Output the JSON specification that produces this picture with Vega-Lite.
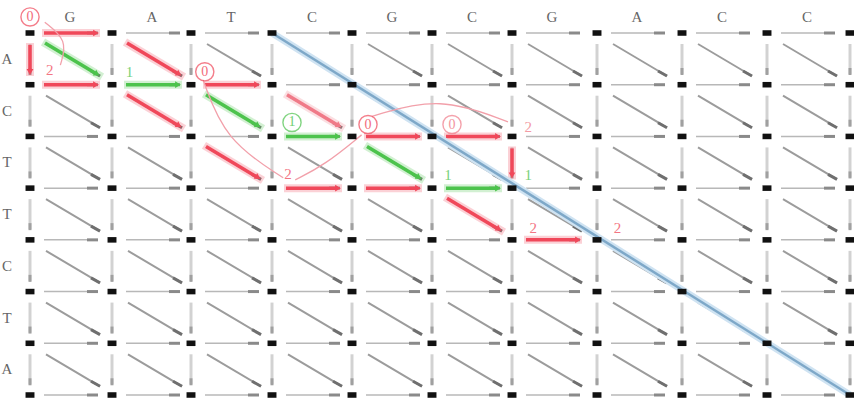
{
  "$schema": "https://vega.github.io/schema/vega-lite/v6.json",
  "width": 854,
  "height": 404,
  "padding": 0,
  "autosize": "none",
  "background": "white",
  "view": {"stroke": null},
  "config": {"text": {"font": "Liberation Serif"}},
  "datasets": {
    "nodes": [
      {"c":0,"r":0},{"c":1,"r":0},{"c":2,"r":0},{"c":3,"r":0},{"c":4,"r":0},{"c":5,"r":0},{"c":6,"r":0},{"c":7,"r":0},{"c":8,"r":0},{"c":9,"r":0},{"c":10,"r":0},
      {"c":0,"r":1},{"c":1,"r":1},{"c":2,"r":1},{"c":3,"r":1},{"c":4,"r":1},{"c":5,"r":1},{"c":6,"r":1},{"c":7,"r":1},{"c":8,"r":1},{"c":9,"r":1},{"c":10,"r":1},
      {"c":0,"r":2},{"c":1,"r":2},{"c":2,"r":2},{"c":3,"r":2},{"c":4,"r":2},{"c":5,"r":2},{"c":6,"r":2},{"c":7,"r":2},{"c":8,"r":2},{"c":9,"r":2},{"c":10,"r":2},
      {"c":0,"r":3},{"c":1,"r":3},{"c":2,"r":3},{"c":3,"r":3},{"c":4,"r":3},{"c":5,"r":3},{"c":6,"r":3},{"c":7,"r":3},{"c":8,"r":3},{"c":9,"r":3},{"c":10,"r":3},
      {"c":0,"r":4},{"c":1,"r":4},{"c":2,"r":4},{"c":3,"r":4},{"c":4,"r":4},{"c":5,"r":4},{"c":6,"r":4},{"c":7,"r":4},{"c":8,"r":4},{"c":9,"r":4},{"c":10,"r":4},
      {"c":0,"r":5},{"c":1,"r":5},{"c":2,"r":5},{"c":3,"r":5},{"c":4,"r":5},{"c":5,"r":5},{"c":6,"r":5},{"c":7,"r":5},{"c":8,"r":5},{"c":9,"r":5},{"c":10,"r":5},
      {"c":0,"r":6},{"c":1,"r":6},{"c":2,"r":6},{"c":3,"r":6},{"c":4,"r":6},{"c":5,"r":6},{"c":6,"r":6},{"c":7,"r":6},{"c":8,"r":6},{"c":9,"r":6},{"c":10,"r":6},
      {"c":0,"r":7},{"c":1,"r":7},{"c":2,"r":7},{"c":3,"r":7},{"c":4,"r":7},{"c":5,"r":7},{"c":6,"r":7},{"c":7,"r":7},{"c":8,"r":7},{"c":9,"r":7},{"c":10,"r":7}
    ],
    "hl": [
      {"c":0,"r":0,"dir":"h","col":"red"},
      {"c":0,"r":1,"dir":"h","col":"red"},
      {"c":2,"r":1,"dir":"h","col":"red"},
      {"c":3,"r":3,"dir":"h","col":"red"},
      {"c":4,"r":2,"dir":"h","col":"red"},
      {"c":4,"r":3,"dir":"h","col":"red"},
      {"c":5,"r":2,"dir":"h","col":"red"},
      {"c":6,"r":4,"dir":"h","col":"red"},
      {"c":1,"r":1,"dir":"h","col":"green"},
      {"c":3,"r":2,"dir":"h","col":"green"},
      {"c":5,"r":3,"dir":"h","col":"green"},
      {"c":0,"r":0,"dir":"v","col":"red"},
      {"c":6,"r":2,"dir":"v","col":"red"},
      {"c":0,"r":0,"dir":"d","col":"green"},
      {"c":2,"r":1,"dir":"d","col":"green"},
      {"c":4,"r":2,"dir":"d","col":"green"},
      {"c":1,"r":0,"dir":"d","col":"red"},
      {"c":1,"r":1,"dir":"d","col":"red"},
      {"c":2,"r":2,"dir":"d","col":"red"},
      {"c":5,"r":3,"dir":"d","col":"red"},
      {"c":3,"r":1,"dir":"d","col":"pink"}
    ],
    "arcs": [
      {"id":"a","o":0,"c":0.18,"r":-0.21},{"id":"a","o":1,"c":0.46,"r":0.14},{"id":"a","o":2,"c":0.37,"r":0.62},
      {"id":"b","o":0,"c":2.15,"r":0.91},{"id":"b","o":1,"c":2.42,"r":2.07},{"id":"b","o":2,"c":3.14,"r":2.8},
      {"id":"c","o":0,"c":3.29,"r":2.84},{"id":"c","o":1,"c":3.66,"r":2.55},{"id":"c","o":2,"c":4.12,"r":1.97},
      {"id":"d","o":0,"c":4.25,"r":1.61},{"id":"d","o":1,"c":5.1,"r":1.22},{"id":"d","o":2,"c":5.95,"r":1.72}
    ],
    "circles": [
      {"c":0,"r":-0.31,"label":"0","col":"red"},
      {"c":2.17,"r":0.75,"label":"0","col":"red"},
      {"c":4.2,"r":1.77,"label":"0","col":"red"},
      {"c":5.25,"r":1.77,"label":"0","col":"pink"},
      {"c":3.25,"r":1.73,"label":"1","col":"green"}
    ],
    "nums": [
      {"c":0.24,"r":0.72,"label":"2","col":"red"},
      {"c":3.2,"r":2.73,"label":"2","col":"red"},
      {"c":6.19,"r":1.81,"label":"2","col":"pink"},
      {"c":6.25,"r":3.77,"label":"2","col":"red"},
      {"c":7.24,"r":3.77,"label":"2","col":"red"},
      {"c":1.22,"r":0.75,"label":"1","col":"green"},
      {"c":5.2,"r":2.75,"label":"1","col":"green"},
      {"c":6.19,"r":2.75,"label":"1","col":"green"}
    ],
    "top": [
      {"c":0,"r":0,"label":"G"},{"c":1,"r":0,"label":"A"},{"c":2,"r":0,"label":"T"},{"c":3,"r":0,"label":"C"},{"c":4,"r":0,"label":"G"},
      {"c":5,"r":0,"label":"C"},{"c":6,"r":0,"label":"G"},{"c":7,"r":0,"label":"A"},{"c":8,"r":0,"label":"C"},{"c":9,"r":0,"label":"C"}
    ],
    "left": [
      {"c":0,"r":0,"label":"A"},{"c":0,"r":1,"label":"C"},{"c":0,"r":2,"label":"T"},{"c":0,"r":3,"label":"T"},
      {"c":0,"r":4,"label":"C"},{"c":0,"r":5,"label":"T"},{"c":0,"r":6,"label":"A"}
    ],
    "blue": [{"c":3,"r":0,"c2":10,"r2":7}]
  },
  "encoding": {
    "x": {"field":"c","type":"quantitative","axis":null,
      "scale":{"type":"linear","domain":[0,1,2,3,4,5,6,7,8,9,10],"range":[30,112,191,272,352,432,512,597,682,767,850]}},
    "y": {"field":"r","type":"quantitative","axis":null,
      "scale":{"type":"linear","domain":[0,7],"range":[33,395]}}
  },
  "layer": [
    {"data":{"name":"nodes"},"transform":[{"filter":"datum.c < 10"}],
     "mark":{"type":"rule","stroke":"#b8b8b8","strokeWidth":1.5,"xOffset":14,"x2Offset":68},
     "encoding":{"x2":{"field":"c"}}},
    {"data":{"name":"nodes"},"transform":[{"filter":"datum.c < 10"}],
     "mark":{"type":"rule","stroke":"#8a8a8a","strokeWidth":3,"xOffset":57,"x2Offset":68},
     "encoding":{"x2":{"field":"c"}}},
    {"data":{"name":"nodes"},"transform":[{"filter":"datum.r < 7"}],
     "mark":{"type":"rule","stroke":"#d2d2d2","strokeWidth":3,"yOffset":11,"y2Offset":41},
     "encoding":{"y2":{"field":"r"}}},
    {"data":{"name":"nodes"},"transform":[{"filter":"datum.r < 7"}],
     "mark":{"type":"rule","stroke":"#a0a0a0","strokeWidth":3,"yOffset":35,"y2Offset":42},
     "encoding":{"y2":{"field":"r"}}},
    {"data":{"name":"nodes"},"transform":[{"filter":"datum.r < 7 && datum.c < 10"}],
     "mark":{"type":"rule","stroke":"#9c9c9c","strokeWidth":2,"xOffset":16,"x2Offset":70,"yOffset":11,"y2Offset":43},
     "encoding":{"x2":{"field":"c"},"y2":{"field":"r"}}},
    {"data":{"name":"nodes"},"transform":[{"filter":"datum.r < 7 && datum.c < 10"}],
     "mark":{"type":"rule","stroke":"#6f6f6f","strokeWidth":3,"xOffset":61,"x2Offset":70,"yOffset":38,"y2Offset":43},
     "encoding":{"x2":{"field":"c"},"y2":{"field":"r"}}},

    {"data":{"name":"hl"},"transform":[{"filter":"datum.dir == 'h'"}],
     "mark":{"type":"rule","strokeWidth":8,"opacity":0.25,"xOffset":12,"x2Offset":70},
     "encoding":{"x2":{"field":"c"},"color":{"field":"col","type":"nominal","legend":null,
       "scale":{"domain":["red","green","pink"],"range":["#f0485a","#4cc34c","#f07a88"]}}}},
    {"data":{"name":"hl"},"transform":[{"filter":"datum.dir == 'v'"}],
     "mark":{"type":"rule","strokeWidth":8,"opacity":0.25,"yOffset":10,"y2Offset":43},
     "encoding":{"y2":{"field":"r"},"color":{"field":"col","type":"nominal","legend":null}}},
    {"data":{"name":"hl"},"transform":[{"filter":"datum.dir == 'd'"}],
     "mark":{"type":"rule","strokeWidth":8,"opacity":0.25,"xOffset":13,"x2Offset":72,"yOffset":9,"y2Offset":44},
     "encoding":{"x2":{"field":"c"},"y2":{"field":"r"},"color":{"field":"col","type":"nominal","legend":null}}},

    {"data":{"name":"hl"},"transform":[{"filter":"datum.dir == 'h'"}],
     "mark":{"type":"rule","strokeWidth":3.5,"xOffset":14,"x2Offset":64},
     "encoding":{"x2":{"field":"c"},"color":{"field":"col","type":"nominal","legend":null,
       "scale":{"domain":["red","green","pink"],"range":["#d9223a","#2a9d34","#d96a7a"]}}}},
    {"data":{"name":"hl"},"transform":[{"filter":"datum.dir == 'v'"}],
     "mark":{"type":"rule","strokeWidth":3.5,"yOffset":12,"y2Offset":37},
     "encoding":{"y2":{"field":"r"},"color":{"field":"col","type":"nominal","legend":null}}},
    {"data":{"name":"hl"},"transform":[{"filter":"datum.dir == 'd'"}],
     "mark":{"type":"rule","strokeWidth":3.5,"xOffset":15,"x2Offset":65,"yOffset":10,"y2Offset":40},
     "encoding":{"x2":{"field":"c"},"y2":{"field":"r"},"color":{"field":"col","type":"nominal","legend":null}}},
    {"data":{"name":"hl"},"transform":[{"filter":"datum.dir == 'h'"}],
     "mark":{"type":"point","shape":"triangle-right","filled":true,"size":45,"opacity":1,"xOffset":66},
     "encoding":{"color":{"field":"col","type":"nominal","legend":null}}},
    {"data":{"name":"hl"},"transform":[{"filter":"datum.dir == 'v'"}],
     "mark":{"type":"point","shape":"triangle-down","filled":true,"size":45,"opacity":1,"yOffset":39},
     "encoding":{"color":{"field":"col","type":"nominal","legend":null}}},
    {"data":{"name":"hl"},"transform":[{"filter":"datum.dir == 'd'"}],
     "mark":{"type":"point","shape":"triangle-right","angle":31,"filled":true,"size":45,"opacity":1,"xOffset":67,"yOffset":41},
     "encoding":{"color":{"field":"col","type":"nominal","legend":null}}},

    {"data":{"name":"blue"},
     "mark":{"type":"rule","stroke":"#cfe3f2","strokeWidth":7},
     "encoding":{"x2":{"field":"c2"},"y2":{"field":"r2"}}},
    {"data":{"name":"blue"},
     "mark":{"type":"rule","stroke":"#7ea8c8","strokeWidth":2.5},
     "encoding":{"x2":{"field":"c2"},"y2":{"field":"r2"}}},

    {"data":{"name":"arcs"},
     "mark":{"type":"line","interpolate":"basis","stroke":"#f2a0aa","strokeWidth":1.3},
     "encoding":{"detail":{"field":"id"},"order":{"field":"o","type":"quantitative"}}},

    {"data":{"name":"nodes"},
     "mark":{"type":"point","shape":"M-1,-0.62H1V0.62H-1Z","filled":true,"color":"#111111","size":80,"opacity":1}},

    {"data":{"name":"circles"},
     "mark":{"type":"point","shape":"circle","filled":false,"size":330,"strokeWidth":1.4,"opacity":0.7},
     "encoding":{"color":{"field":"col","type":"nominal","legend":null}}},
    {"data":{"name":"circles"},
     "mark":{"type":"text","fontSize":14,"baseline":"middle","align":"center","opacity":0.8},
     "encoding":{"text":{"field":"label"},"color":{"field":"col","type":"nominal","legend":null}}},
    {"data":{"name":"nums"},
     "mark":{"type":"text","fontSize":15,"baseline":"middle","align":"center","opacity":0.75},
     "encoding":{"text":{"field":"label"},"color":{"field":"col","type":"nominal","legend":null}}},

    {"data":{"name":"top"},
     "mark":{"type":"text","fontSize":15,"baseline":"middle","align":"center","color":"#666666","xOffset":40,"yOffset":-16},
     "encoding":{"text":{"field":"label"}}},
    {"data":{"name":"left"},
     "mark":{"type":"text","fontSize":15,"baseline":"middle","align":"center","color":"#666666","xOffset":-23,"yOffset":26},
     "encoding":{"text":{"field":"label"}}}
  ]
}
